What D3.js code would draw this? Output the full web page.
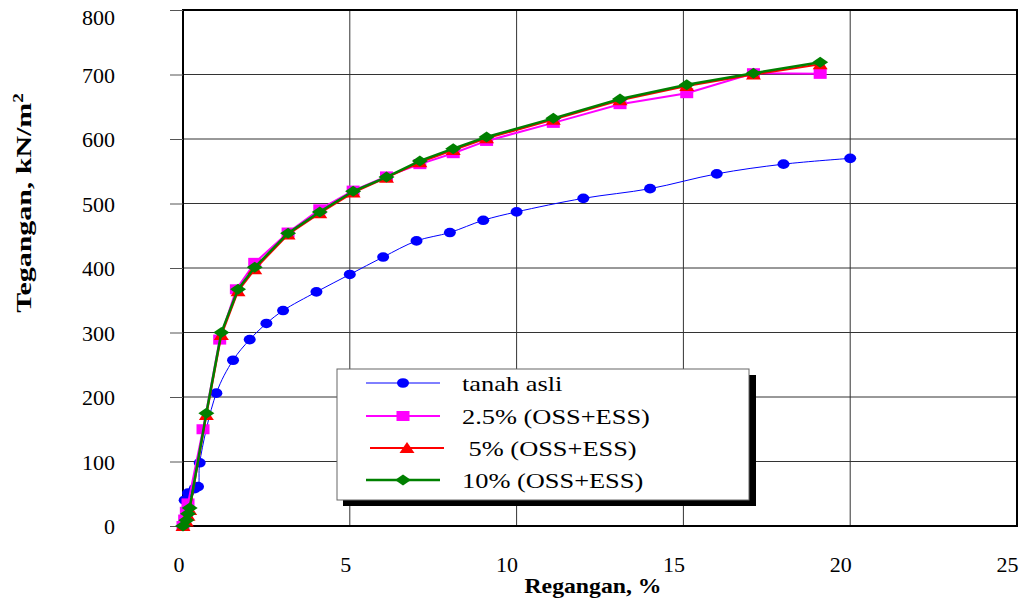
<!DOCTYPE html>
<html lang="id">
<head>
  <meta charset="UTF-8">
  <title>Tegangan - Regangan</title>
  <script src="https://d3js.org/d3.v7.min.js"></script>
  <style>
    body { margin: 0; background: white; }
    svg text { font-family: "Liberation Serif", "Times New Roman", serif; fill: black; }
  </style>
</head>
<body>
  <div id="chart"></div>
  <script>
    // strain (%) and stress (kN/m2)
    const tanahX = [0, 0.05, 0.15, 0.35, 0.45, 0.5, 1.0, 1.5, 2.0, 2.5, 3.0, 4.0, 5.0, 6.0, 7.0, 8.0, 9.0, 10.0, 12.0, 14.0, 16.0, 18.0, 20.0];
    const tanahY = [0, 40, 51, 58, 61, 98, 206, 257, 289, 314, 334, 363, 390, 417, 442, 455, 474, 487, 508, 523, 546, 561, 570];

    const ess25X = [0, 0.05, 0.1, 0.15, 0.6, 1.1, 1.6, 2.15, 3.15, 4.1, 5.1, 6.1, 7.1, 8.1, 9.1, 11.1, 13.1, 15.1, 17.1, 19.1];
    const ess25Y = [0, 10, 22, 35, 150, 289, 367, 408, 455, 491, 520, 542, 561, 578, 597, 625, 654, 671, 702, 701];

    const ess5X = [0, 0.1, 0.15, 0.2, 0.7, 1.15, 1.65, 2.15, 3.15, 4.1, 5.1, 6.1, 7.1, 8.1, 9.1, 11.1, 13.1, 15.1, 17.1, 19.1];
    const ess5Y = [0, 7, 16, 25, 172, 296, 364, 398, 452, 485, 517, 540, 564, 583, 601, 630, 660, 682, 700, 716];

    const ess10X = [0, 0.1, 0.15, 0.2, 0.7, 1.15, 1.65, 2.15, 3.15, 4.1, 5.1, 6.1, 7.1, 8.1, 9.1, 11.1, 13.1, 15.1, 17.1, 19.1];
    const ess10Y = [0, 9, 19, 28, 175, 300, 367, 401, 454, 487, 519, 541, 566, 585, 603, 632, 662, 684, 702, 719];

    const xTicks = [0, 5, 10, 15, 20, 25];
    const yTicks = [0, 100, 200, 300, 400, 500, 600, 700, 800];

    const series = [
      { name: "tanah asli", xs: tanahX, ys: tanahY, color: "#0000ff", width: 1, marker: "circle", smooth: true },
      { name: "2.5% (OSS+ESS)", xs: ess25X, ys: ess25Y, color: "#ff00ff", width: 2, marker: "square" },
      { name: " 5% (OSS+ESS)", xs: ess5X, ys: ess5Y, color: "#ff0000", width: 2, marker: "triangle" },
      { name: "10% (OSS+ESS)", xs: ess10X, ys: ess10Y, color: "#008000", width: 2.5, marker: "diamond" }
    ];

    const W = 1020, H = 601;
    const plotL = 183, plotR = 1017, plotT = 10, plotB = 526;

    const svg = d3.select("#chart").append("svg")
      .attr("width", W).attr("height", H);

    const x = d3.scaleLinear().domain([0, 25]).range([plotL, plotR]);
    const y = d3.scaleLinear().domain([0, 800]).range([plotB, plotT]);

    // grid
    svg.append("g").selectAll("line")
      .data(yTicks.slice(1, -1)).enter().append("line")
      .attr("x1", plotL).attr("x2", plotR)
      .attr("y1", d => y(d)).attr("y2", d => y(d))
      .attr("stroke", "#333").attr("stroke-width", 1);
    svg.append("g").selectAll("line")
      .data(xTicks.slice(1, -1)).enter().append("line")
      .attr("x1", d => x(d)).attr("x2", d => x(d))
      .attr("y1", plotT).attr("y2", plotB)
      .attr("stroke", "#333").attr("stroke-width", 1);

    // frame
    svg.append("rect")
      .attr("x", plotL).attr("y", plotT)
      .attr("width", plotR - plotL).attr("height", plotB - plotT)
      .attr("fill", "none").attr("stroke", "black").attr("stroke-width", 2);

    // y axis
    const yAxis = d3.axisLeft(y).tickValues(yTicks).tickSize(13).tickPadding(55);
    const gy = svg.append("g").attr("transform", `translate(${plotL},0)`).call(yAxis);
    gy.select(".domain").remove();
    gy.selectAll(".tick line").attr("stroke", "#555");
    gy.selectAll(".tick text")
      .attr("font-size", 22).attr("font-family", "Liberation Serif, serif")
      .attr("text-anchor", "end").attr("dy", "0.35em")
      .attr("y", d => d === 800 ? 7 : 0); // top label nudged inside the page

    // x axis (labels sit right-aligned on their tick, as in the original)
    const xAxis = d3.axisBottom(x).tickValues(xTicks).tickSize(0).tickPadding(30);
    const gx = svg.append("g").attr("transform", `translate(0,${plotB})`).call(xAxis);
    gx.select(".domain").remove();
    gx.selectAll(".tick text")
      .attr("font-size", 22).attr("font-family", "Liberation Serif, serif")
      .attr("text-anchor", "end").attr("dx", 1);

    // axis titles
    svg.append("text")
      .attr("transform", "translate(593,593) scale(1.13,1)")
      .attr("text-anchor", "middle")
      .attr("font-size", 21).attr("font-weight", "bold")
      .text("Regangan, %");

    const yt = svg.append("text")
      .attr("transform", "translate(31,203) rotate(-90) scale(1.36,1)")
      .attr("text-anchor", "middle")
      .attr("font-size", 22).attr("font-weight", "bold");
    yt.append("tspan").text("Tegangan, kN/m");
    yt.append("tspan").attr("baseline-shift", "super").attr("font-size", 14).text("2");

    // markers
    function drawMarker(sel, type, color) {
      if (type === "circle") {
        sel.append("ellipse").attr("rx", 6).attr("ry", 4.8).attr("fill", color);
      } else if (type === "square") {
        sel.append("rect").attr("x", -6.5).attr("y", -5).attr("width", 13).attr("height", 10).attr("fill", color);
      } else if (type === "triangle") {
        sel.append("path").attr("d", "M0,-6L7.5,5L-7.5,5Z").attr("fill", color);
      } else {
        sel.append("path").attr("d", "M0,-5.5L8,0L0,5.5L-8,0Z").attr("fill", color);
      }
    }

    series.forEach(s => {
      const pts = s.xs.map((v, i) => [v, s.ys[i]]);
      const line = d3.line()
        .x(d => x(d[0])).y(d => y(d[1]))
        .curve(s.smooth ? d3.curveCatmullRom.alpha(0.5) : d3.curveLinear);
      svg.append("path").datum(pts)
        .attr("d", line).attr("fill", "none")
        .attr("stroke", s.color).attr("stroke-width", s.width);
      svg.append("g").selectAll("g")
        .data(pts).enter().append("g")
        .attr("transform", d => `translate(${x(d[0])},${y(d[1])})`)
        .each(function() { drawMarker(d3.select(this), s.marker, s.color); });
    });

    // legend
    const lg = svg.append("g");
    lg.append("rect").attr("x", 343).attr("y", 375).attr("width", 413).attr("height", 131).attr("fill", "black");
    lg.append("rect").attr("x", 337).attr("y", 369).attr("width", 412).attr("height", 131)
      .attr("fill", "white").attr("stroke", "#666").attr("stroke-width", 1);

    const rowY = [383, 416, 448, 480];
    const rowShift = [0, 0, 4, 0];
    series.forEach((s, i) => {
      const g = lg.append("g").attr("transform", `translate(0,${rowY[i]})`);
      const x0 = 366 + rowShift[i], x1 = 440 + rowShift[i];
      g.append("line").attr("x1", x0).attr("x2", x1)
        .attr("stroke", s.color).attr("stroke-width", s.width);
      drawMarker(g.append("g").attr("transform", `translate(${(x0 + x1) / 2},0)`), s.marker, s.color);
      g.append("text")
        .attr("transform", "translate(462,0) scale(1.2,1)")
        .attr("dy", "0.35em")
        .attr("font-size", 22)
        .style("white-space", "pre")
        .text(s.name);
    });
  </script>
</body>
</html>
